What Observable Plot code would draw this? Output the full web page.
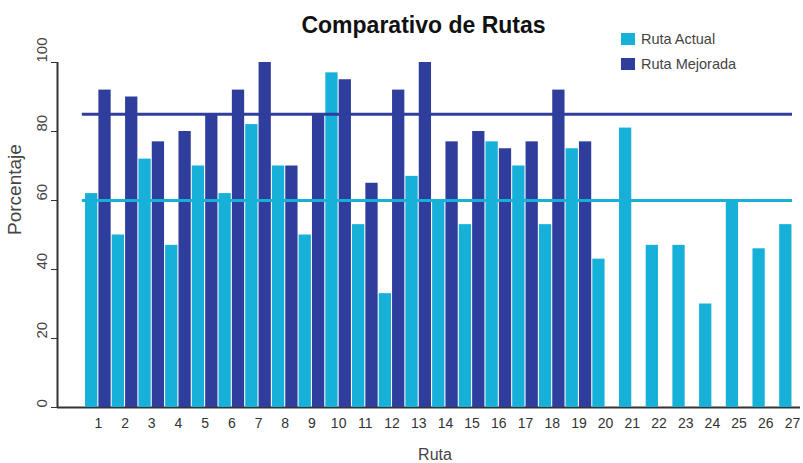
<!DOCTYPE html>
<html><head><meta charset="utf-8">
<script src="https://cdn.jsdelivr.net/npm/d3@7"></script>
<script src="https://cdn.jsdelivr.net/npm/@observablehq/plot@0.6"></script>
<style>body{margin:0;background:#fff} svg{display:block}</style>
</head><body><div id="chart"></div>
<script>
const routes = [1,2,3,4,5,6,7,8,9,10,11,12,13,14,15,16,17,18,19,20,21,22,23,24,25,26,27];
const actual = [62,50,72,47,70,62,82,70,50,97,53,33,67,60,53,77,70,53,75,43,81,47,47,30,60,46,53];
const mejorada = [92,90,77,80,85,92,100,70,85,95,65,92,100,77,80,75,77,92,77];
const avgActual = 60;
const avgMejorada = 85;
const yTicks = [0,20,40,60,80,100];
const seriesNames = ["Ruta Actual","Ruta Mejorada"];
const colors = ["#17b0d9","#2f3e9c"];
const title = "Comparativo de Rutas";
const xLabel = "Ruta";
const yLabel = "Porcentaje";

const dataA = actual.map((v,i)=>({r:routes[i], v}));
const dataM = mejorada.map((v,i)=>({r:routes[i], v}));
const xDomain = [-0.53, 27.3];
const avgFrom = 0.4, avgTo = 27;

const chart = Plot.plot({
  width: 803, height: 463,
  marginTop: 62, marginBottom: 56, marginLeft: 57, marginRight: 3,
  x: {domain: xDomain},
  y: {domain: [0,100]},
  style: {fontFamily: "'Liberation Sans', Arial, sans-serif", color: "#333", background: "#fff"},
  marks: [
    Plot.ruleY([0], {stroke: "#333", strokeWidth: 2}),
    Plot.rectY(dataA, {x1: d => d.r - 0.48, x2: d => d.r - 0.02, y: "v", fill: colors[0]}),
    Plot.rectY(dataM, {x1: d => d.r + 0.02, x2: d => d.r + 0.48, y: "v", fill: colors[1]}),
    Plot.ruleY([avgMejorada], {x1: avgFrom, x2: avgTo, stroke: colors[1], strokeWidth: 3}),
    Plot.ruleY([avgActual], {x1: avgFrom, x2: avgTo, stroke: colors[0], strokeWidth: 3}),
    Plot.ruleX([xDomain[0]], {stroke: "#333", strokeWidth: 2}),
    Plot.axisY({ticks: yTicks, tickSize: 6, tickFormat: () => "", label: null}),
    Plot.text(yTicks, {y: d => d, text: d => String(d), frameAnchor: "left", dx: -15, rotate: -90, fontSize: 15, fill: "#444"}),
    Plot.axisX({ticks: routes, tickSize: 0, tickPadding: 11, tickFormat: d => String(d), label: null, fontSize: 14, fill: "#333"}),
    Plot.text([yLabel], {frameAnchor: "left", dx: -43, rotate: -90, fontSize: 19, fill: "#444"})
  ]
});
document.getElementById("chart").appendChild(chart);

const svg = d3.select(chart);
svg.append("text").attr("x", 423.5).attr("y", 33).attr("text-anchor", "middle")
  .attr("font-size", 23).attr("font-weight", "bold").attr("fill", "#111").text(title);
svg.append("text").attr("x", 435).attr("y", 460).attr("text-anchor", "middle")
  .attr("font-size", 16).attr("fill", "#444").text(xLabel);
seriesNames.forEach((name, i) => {
  const y = 33 + i * 25;
  svg.append("rect").attr("x", 621).attr("y", y).attr("width", 14).attr("height", 12).attr("fill", colors[i]);
  svg.append("text").attr("x", 641).attr("y", y + 11).attr("text-anchor", "start")
    .attr("font-size", 14.5).attr("fill", "#444").text(name);
});
</script>
</body></html>
